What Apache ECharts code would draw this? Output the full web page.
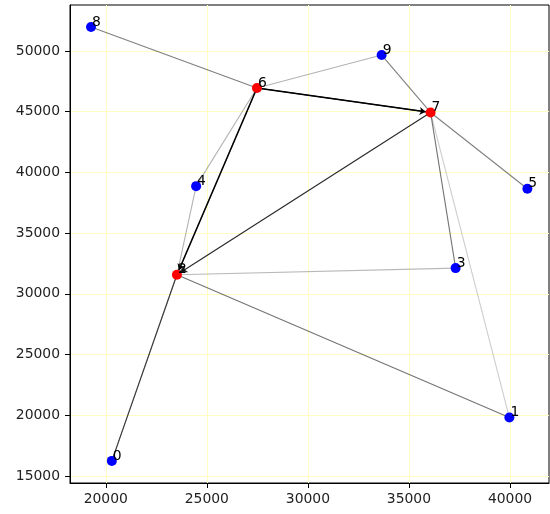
<!DOCTYPE html>
<html>
<head>
<meta charset="utf-8">
<script src="https://cdn.jsdelivr.net/npm/echarts@6/dist/echarts.min.js"></script>
<style>html,body{margin:0;padding:0;background:#fff;}#c{width:550px;height:514px;}</style>
</head>
<body>
<div id="c"></div>
<script>
// Node data
var nodeNames = ['0','1','2','3','4','5','6','7','8','9'];
var nodeX = [20300, 39970, 23520, 37310, 24470, 40860, 27480, 36070, 19270, 33650];
var nodeY = [16240, 19810, 31570, 32120, 38870, 38660, 46950, 44940, 51980, 49670];
var hubNodes = ['2','6','7'];

// Edge data (directed)
var edgeSource = ['8','6','9','6','7','4','6','2','4','7','3','1','0','2','7','7','7'];
var edgeTarget = ['6','9','7','7','6','6','2','6','2','2','2','2','2','0','5','3','1'];
var edgeWeight = [0.5, 0.3, 0.5, 1.0, 0.9, 0.3, 1.0, 0.45, 0.3, 0.85, 0.28, 0.55, 0.65, 0.4, 0.5, 0.55, 0.2];
var edgeArrow  = [0, 0, 0, 1, 0, 0, 1, 0, 0, 1, 0, 0, 0, 0, 0, 0, 0];

// Axis ticks
var xTicks = [20000, 25000, 30000, 35000, 40000];
var yTicks = [15000, 20000, 25000, 30000, 35000, 40000, 45000, 50000];
var xRange = [18230, 41930];
var yRange = [14420, 53790];

var nodes = nodeNames.map(function (n, i) {
  return {
    name: n,
    value: [nodeX[i], nodeY[i]],
    itemStyle: { color: hubNodes.indexOf(n) >= 0 ? '#ff0000' : '#0000ff' }
  };
});
var links = edgeSource.map(function (s, i) {
  var l = {
    source: s,
    target: edgeTarget[i],
    lineStyle: { color: '#000', opacity: edgeWeight[i], width: edgeWeight[i] >= 1 ? 1.5 : 1.1 }
  };
  if (edgeArrow[i]) { l.symbol = ['none', 'arrow']; l.symbolSize = [0, 6]; }
  return l;
});

function plain(v) { return String(v); }
var chart = echarts.init(document.getElementById('c'), null, { renderer: 'canvas' });
chart.setOption({
  animation: false,
  backgroundColor: '#fff',
  grid: { left: 70, top: 5, right: 1, bottom: 31, show: true, borderColor: '#000', borderWidth: 1, backgroundColor: 'transparent' },
  xAxis: {
    type: 'value', min: xRange[0], max: xRange[1],
    axisLine: { show: true, onZero: false, lineStyle: { color: '#000' } },
    axisTick: { show: true, customValues: xTicks, length: 5, lineStyle: { color: '#000' } },
    axisLabel: { customValues: xTicks, formatter: plain, margin: 9, fontFamily: 'DejaVu Sans', fontSize: 13.9, color: '#222' },
    splitLine: { show: true, lineStyle: { color: '#ffffc4', width: 1 } }
  },
  yAxis: {
    type: 'value', min: yRange[0], max: yRange[1],
    axisLine: { show: true, onZero: false, lineStyle: { color: '#000' } },
    axisTick: { show: true, customValues: yTicks, length: 5, lineStyle: { color: '#000' } },
    axisLabel: { customValues: yTicks, formatter: plain, margin: 10, fontFamily: 'DejaVu Sans', fontSize: 13.9, color: '#222' },
    splitLine: { show: true, lineStyle: { color: '#ffffc4', width: 1 } }
  },
  series: [{
    type: 'graph',
    coordinateSystem: 'cartesian2d',
    layout: 'none',
    symbol: 'circle',
    symbolSize: 10,
    edgeSymbol: ['none', 'none'],
    data: nodes,
    links: links,
    label: {
      show: true, position: ['60%', '0%'], align: 'left', verticalAlign: 'middle',
      fontFamily: 'DejaVu Sans', fontSize: 13.9, color: '#000'
    },
    emphasis: { disabled: true }
  }]
});
</script>
</body>
</html>
